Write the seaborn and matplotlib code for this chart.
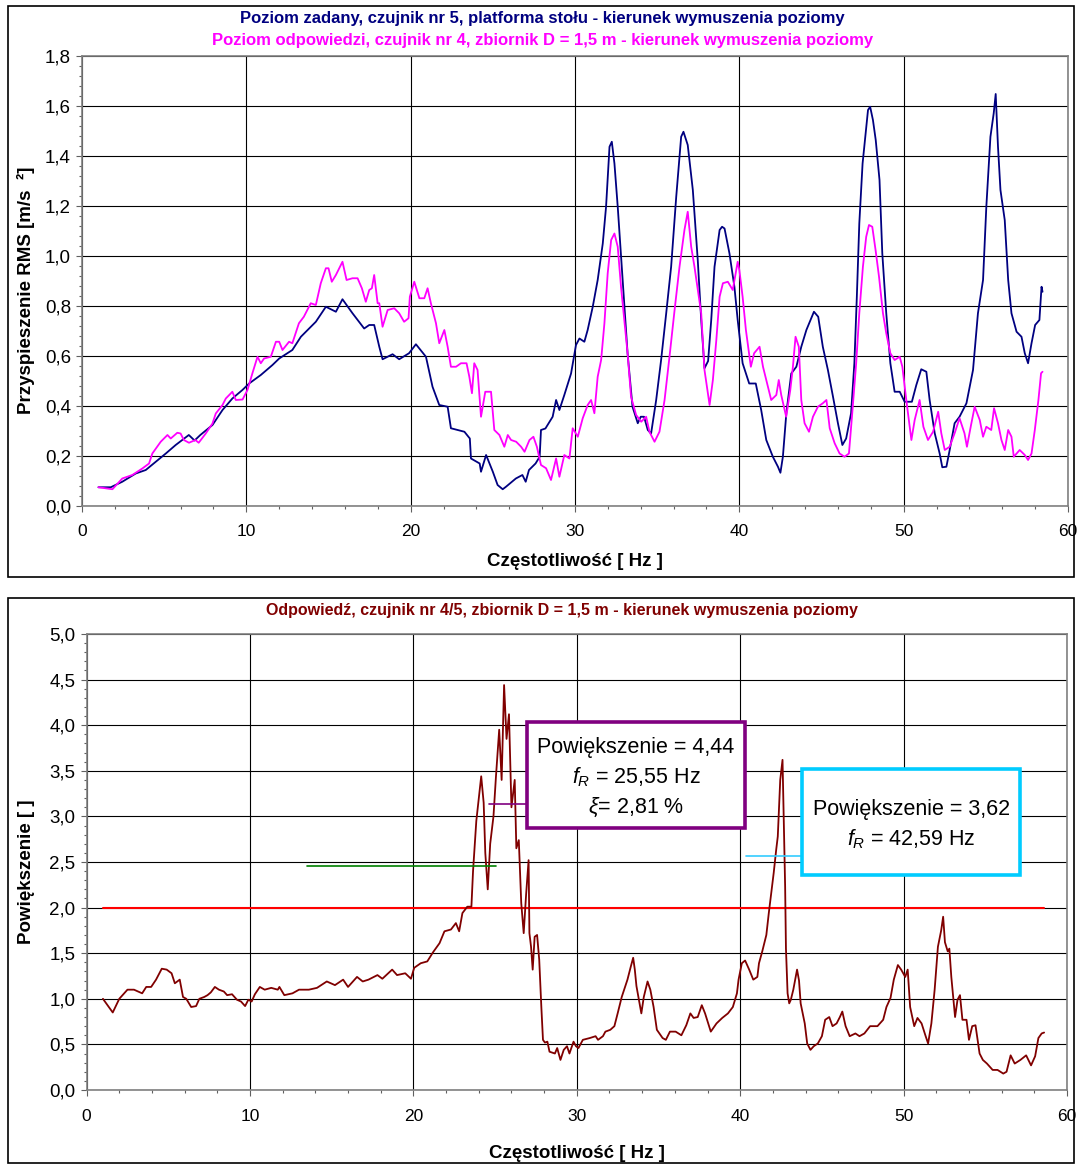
import matplotlib
matplotlib.use('Agg')
import matplotlib.pyplot as plt
import matplotlib.ticker as mticker
from matplotlib.patches import Rectangle
import seaborn as sns

sns.set_style('white')
plt.rcParams['font.family'] = ['Liberation Sans', 'DejaVu Sans']
plt.rcParams['mathtext.fontset'] = 'custom'
plt.rcParams['mathtext.rm'] = 'Liberation Sans'
plt.rcParams['mathtext.it'] = 'Liberation Sans:italic'
plt.rcParams['text.color'] = 'black'
plt.rcParams['axes.labelcolor'] = 'black'

# --- data ---
# top chart: RMS acceleration, input (sensor 5) and response (sensor 4)
zad_freq = [1.0, 1.75, 2.45, 3.27, 3.88, 4.49, 5.1, 5.7, 6.5, 6.85, 7.2, 7.94, 8.55, 9.15, 9.76, 10.17,
            10.88, 11.59, 12.0, 12.8, 13.32, 13.82, 14.23, 14.84, 15.45, 15.85, 16.46, 17.17, 17.48,
            17.78, 18.09, 18.29, 18.9, 19.3, 19.9, 20.32, 20.93, 21.33, 21.74, 22.25, 22.45, 23.27,
            23.6, 23.67, 24.2, 24.28, 24.59, 25.0, 25.29, 25.6, 25.8, 26.4, 26.8, 27.0, 27.2, 27.6,
            27.85, 27.93, 28.2, 28.64, 28.85, 29.05, 29.35, 29.76, 30.06, 30.27, 30.57, 30.77, 31.08,
            31.38, 31.69, 31.89, 32.1, 32.24, 32.4, 32.6, 32.9, 33.2, 33.5, 33.82, 34.0, 34.2, 34.43,
            34.63, 34.94, 35.24, 35.55, 35.85, 36.16, 36.46, 36.6, 36.86, 37.17, 37.47, 37.68, 37.88,
            38.1, 38.29, 38.49, 38.8, 38.95, 39.1, 39.4, 39.7, 39.9, 40.2, 40.6, 41.0, 41.33, 41.64,
            42.04, 42.35, 42.5, 42.65, 42.86, 43.16, 43.47, 43.77, 44.08, 44.54, 44.8, 45.08, 45.39,
            45.7, 46.0, 46.27, 46.5, 46.8, 47.0, 47.15, 47.3, 47.5, 47.83, 47.96, 48.13, 48.3, 48.53,
            48.7, 48.94, 49.19, 49.45, 49.76, 50.06, 50.5, 50.77, 51.07, 51.38, 51.58, 51.89, 52.19,
            52.35, 52.6, 52.8, 53.1, 53.4, 53.82, 54.22, 54.52, 54.83, 55.03, 55.28, 55.48, 55.6,
            55.74, 55.89, 56.15, 56.36, 56.56, 56.87, 57.17, 57.37, 57.57, 57.78, 58.0, 58.26, 58.39,
            58.45]
zad_rms = [0.075, 0.075, 0.097, 0.13, 0.144, 0.177, 0.21, 0.244, 0.284, 0.262, 0.284, 0.324, 0.384,
           0.43, 0.464, 0.49, 0.524, 0.564, 0.59, 0.624, 0.677, 0.71, 0.737, 0.797, 0.777, 0.827,
           0.771, 0.71, 0.724, 0.724, 0.637, 0.587, 0.607, 0.587, 0.611, 0.647, 0.597, 0.477, 0.404,
           0.397, 0.311, 0.297, 0.27, 0.19, 0.17, 0.137, 0.204, 0.137, 0.084, 0.067, 0.077, 0.11,
           0.124, 0.097, 0.144, 0.17, 0.197, 0.304, 0.31, 0.357, 0.424, 0.384, 0.444, 0.53, 0.644,
           0.67, 0.657, 0.704, 0.797, 0.904, 1.05, 1.197, 1.437, 1.457, 1.37, 1.197, 0.904, 0.61,
           0.397, 0.331, 0.357, 0.357, 0.304, 0.29, 0.424, 0.584, 0.771, 0.957, 1.237, 1.477, 1.497,
           1.444, 1.264, 0.984, 0.744, 0.551, 0.58, 0.744, 0.957, 1.104, 1.117, 1.11, 1.01, 0.877,
           0.744, 0.571, 0.49, 0.49, 0.384, 0.264, 0.197, 0.157, 0.133, 0.197, 0.371, 0.53, 0.557,
           0.637, 0.704, 0.777, 0.757, 0.637, 0.544, 0.437, 0.331, 0.244, 0.27, 0.371, 0.571, 0.837,
           1.13, 1.37, 1.584, 1.597, 1.544, 1.464, 1.304, 1.01, 0.771, 0.571, 0.457, 0.457, 0.417,
           0.417, 0.484, 0.547, 0.537, 0.424, 0.291, 0.21, 0.155, 0.157, 0.224, 0.331, 0.357, 0.411,
           0.544, 0.771, 0.904, 1.197, 1.477, 1.571, 1.648, 1.437, 1.264, 1.144, 0.904, 0.771, 0.697,
           0.677, 0.611, 0.571, 0.651, 0.724, 0.744, 0.877, 0.857]

odp_freq = [1.0, 1.85, 2.45, 3.06, 3.67, 4.08, 4.28, 4.79, 5.2, 5.4, 5.8, 6.0, 6.2, 6.51, 6.9, 7.1,
            7.53, 7.94, 8.14, 8.55, 8.75, 9.15, 9.36, 9.77, 10.07, 10.37, 10.68, 10.88, 11.08, 11.49,
            11.8, 12.0, 12.2, 12.6, 12.8, 13.2, 13.5, 13.92, 14.23, 14.53, 14.84, 15.0, 15.2, 15.45,
            15.85, 16.1, 16.46, 16.77, 17.03, 17.27, 17.48, 17.64, 17.78, 17.99, 18.09, 18.29, 18.6,
            19.0, 19.3, 19.6, 19.87, 19.95, 20.22, 20.53, 20.83, 21.03, 21.23, 21.54, 21.74, 22.05,
            22.25, 22.45, 22.76, 23.06, 23.4, 23.57, 23.73, 23.87, 24.07, 24.28, 24.54, 24.89, 25.09,
            25.4, 25.7, 25.91, 26.11, 26.42, 26.72, 26.93, 27.23, 27.47, 27.68, 27.93, 28.24, 28.54,
            28.85, 29.05, 29.35, 29.66, 29.86, 30.17, 30.47, 30.77, 30.98, 31.18, 31.38, 31.59, 31.79,
            31.99, 32.2, 32.4, 32.6, 32.8, 33.0, 33.2, 33.41, 33.72, 34.03, 34.33, 34.53, 34.84, 35.14,
            35.45, 35.75, 36.06, 36.36, 36.66, 36.86, 37.07, 37.27, 37.68, 37.88, 38.19, 38.39, 38.6,
            38.8, 39.0, 39.3, 39.6, 39.9, 40.0, 40.2, 40.4, 40.7, 40.9, 41.23, 41.44, 41.74, 41.94,
            42.25, 42.4, 42.55, 42.85, 43.1, 43.26, 43.42, 43.62, 43.77, 43.97, 44.24, 44.48, 44.78,
            45.08, 45.3, 45.5, 45.8, 46.1, 46.4, 46.67, 46.87, 47.11, 47.3, 47.52, 47.72, 47.89, 48.09,
            48.29, 48.5, 48.74, 48.94, 49.19, 49.45, 49.76, 49.92, 50.16, 50.47, 50.67, 50.97, 51.2,
            51.48, 51.79, 52.1, 52.29, 52.5, 52.8, 53.1, 53.4, 53.7, 53.85, 54.1, 54.32, 54.63, 54.83,
            55.03, 55.33, 55.5, 55.74, 55.95, 56.15, 56.36, 56.56, 56.7, 57.06, 57.37, 57.57, 57.78,
            57.98, 58.2, 58.36, 58.45]
odp_rms = [0.075, 0.067, 0.11, 0.124, 0.15, 0.17, 0.21, 0.257, 0.284, 0.27, 0.293, 0.29, 0.264, 0.253,
           0.264, 0.253, 0.29, 0.33, 0.37, 0.404, 0.43, 0.457, 0.424, 0.426, 0.464, 0.531, 0.597,
           0.571, 0.59, 0.597, 0.657, 0.657, 0.624, 0.657, 0.651, 0.731, 0.757, 0.811, 0.804, 0.891,
           0.951, 0.951, 0.897, 0.924, 0.977, 0.904, 0.911, 0.911, 0.871, 0.817, 0.864, 0.871, 0.924,
           0.811, 0.811, 0.717, 0.784, 0.791, 0.771, 0.737, 0.751, 0.837, 0.897, 0.831, 0.831, 0.871,
           0.811, 0.731, 0.651, 0.704, 0.637, 0.557, 0.557, 0.571, 0.571, 0.517, 0.451, 0.571, 0.544,
           0.357, 0.457, 0.457, 0.304, 0.284, 0.237, 0.284, 0.264, 0.257, 0.237, 0.217, 0.264, 0.277,
           0.237, 0.164, 0.151, 0.104, 0.19, 0.117, 0.204, 0.19, 0.311, 0.277, 0.351, 0.404, 0.424,
           0.371, 0.517, 0.584, 0.731, 0.931, 1.064, 1.09, 1.037, 0.877, 0.744, 0.611, 0.437, 0.364,
           0.337, 0.357, 0.297, 0.257, 0.297, 0.424, 0.597, 0.784, 0.957, 1.104, 1.177, 1.037, 0.957,
           0.771, 0.544, 0.404, 0.504, 0.664, 0.837, 0.891, 0.897, 0.864, 0.977, 0.944, 0.837, 0.704,
           0.557, 0.611, 0.637, 0.557, 0.477, 0.424, 0.444, 0.504, 0.444, 0.357, 0.464, 0.557, 0.677,
           0.637, 0.424, 0.331, 0.297, 0.357, 0.397, 0.411, 0.424, 0.311, 0.251, 0.21, 0.197, 0.21,
           0.371, 0.571, 0.771, 0.957, 1.077, 1.124, 1.117, 1.024, 0.917, 0.771, 0.691, 0.611, 0.584,
           0.597, 0.557, 0.424, 0.264, 0.344, 0.424, 0.317, 0.264, 0.297, 0.377, 0.291, 0.224, 0.237,
           0.291, 0.351, 0.291, 0.237, 0.324, 0.397, 0.344, 0.277, 0.317, 0.304, 0.391, 0.331, 0.264,
           0.224, 0.304, 0.277, 0.197, 0.224, 0.204, 0.184, 0.21, 0.304, 0.424, 0.531, 0.537]

# bottom chart: magnification (response / input)
pow_freq = [1.0, 1.6, 2.0, 2.5, 2.9, 3.4, 3.65, 3.95, 4.25, 4.6, 4.9, 5.2, 5.4, 5.7, 5.9, 6.1, 6.4,
            6.7, 6.9, 7.2, 7.4, 7.6, 7.85, 8.1, 8.4, 8.6, 8.9, 9.2, 9.45, 9.7, 9.9, 10.1, 10.3, 10.6,
            10.9, 11.3, 11.7, 11.8, 12.1, 12.6, 13.0, 13.6, 14.1, 14.7, 15.2, 15.7, 16.0, 16.55, 16.9,
            17.25, 17.8, 18.1, 18.7, 19.0, 19.5, 19.85, 20.05, 20.45, 20.85, 21.2, 21.6, 21.9, 22.3,
            22.6, 22.8, 23.0, 23.3, 23.55, 23.65, 23.85, 24.0, 24.15, 24.3, 24.4, 24.55, 24.7, 24.9,
            25.05, 25.25, 25.4, 25.55, 25.7, 25.85, 26.0, 26.2, 26.3, 26.45, 26.6, 26.75, 26.9, 27.05,
            27.1, 27.2, 27.3, 27.42, 27.57, 27.7, 27.83, 27.93, 28.05, 28.2, 28.33, 28.66, 28.8, 29.0,
            29.2, 29.4, 29.55, 29.8, 29.95, 30.1, 30.37, 30.8, 31.15, 31.3, 31.6, 31.75, 32.05, 32.3,
            32.5, 32.75, 33.1, 33.3, 33.45, 33.55, 33.65, 33.8, 33.95, 34.1, 34.33, 34.5, 34.7, 34.9,
            35.25, 35.45, 35.7, 36.05, 36.4, 36.7, 36.95, 37.15, 37.4, 37.65, 37.85, 38.2, 38.55, 38.9,
            39.25, 39.55, 39.8, 39.9, 40.1, 40.3, 40.55, 40.8, 41.05, 41.15, 41.35, 41.6, 41.75, 41.9,
            42.05, 42.2, 42.3, 42.37, 42.45, 42.59, 42.66, 42.75, 42.8, 42.9, 43.0, 43.1, 43.25, 43.48,
            43.6, 43.7, 43.95, 44.1, 44.3, 44.5, 44.75, 45.0, 45.2, 45.45, 45.65, 45.9, 46.1, 46.25,
            46.45, 46.7, 47.05, 47.3, 47.6, 47.95, 48.4, 48.75, 48.95, 49.2, 49.4, 49.65, 49.85, 50.1,
            50.25, 50.4, 50.65, 50.85, 51.1, 51.35, 51.5, 51.7, 51.9, 52.1, 52.3, 52.42, 52.53, 52.7,
            52.8, 52.92, 53.15, 53.3, 53.45, 53.6, 53.85, 54.0, 54.2, 54.4, 54.65, 54.85, 55.1, 55.45,
            55.75, 56.1, 56.3, 56.55, 56.8, 57.15, 57.5, 57.8, 58.05, 58.25, 58.45, 58.6]
pow_val = [1.0, 0.85, 1.0, 1.1, 1.1, 1.06, 1.13, 1.13, 1.21, 1.33, 1.32, 1.28, 1.17, 1.21, 1.02, 1.0,
           0.91, 0.92, 1.0, 1.02, 1.04, 1.07, 1.13, 1.1, 1.08, 1.04, 1.05, 0.99, 0.97, 0.92, 0.99,
           0.97, 1.05, 1.13, 1.1, 1.12, 1.1, 1.13, 1.04, 1.06, 1.1, 1.1, 1.12, 1.19, 1.15, 1.21, 1.13,
           1.24, 1.19, 1.21, 1.26, 1.22, 1.32, 1.26, 1.28, 1.22, 1.34, 1.39, 1.41, 1.51, 1.61, 1.74,
           1.76, 1.83, 1.74, 1.94, 2.01, 2.01, 2.4, 2.95, 3.2, 3.44, 3.15, 2.6, 2.2, 2.7, 3.0, 3.43,
           3.95, 3.4, 4.44, 3.85, 4.12, 3.1, 3.4, 2.65, 2.74, 2.05, 1.72, 2.15, 2.52, 1.72, 1.57, 1.32,
           1.68, 1.7, 1.43, 0.91, 0.55, 0.52, 0.53, 0.42, 0.4, 0.46, 0.33, 0.44, 0.48, 0.4, 0.53, 0.48,
           0.46, 0.55, 0.57, 0.59, 0.55, 0.59, 0.64, 0.66, 0.7, 0.84, 1.02, 1.21, 1.35, 1.45, 1.32,
           1.14, 0.99, 0.84, 1.02, 1.19, 1.1, 0.91, 0.66, 0.57, 0.55, 0.64, 0.64, 0.6, 0.71, 0.84, 0.79,
           0.8, 0.93, 0.84, 0.64, 0.73, 0.79, 0.84, 0.91, 1.06, 1.21, 1.39, 1.42, 1.32, 1.21, 1.24,
           1.39, 1.52, 1.7, 1.94, 2.16, 2.38, 2.63, 2.78, 3.07, 3.4, 3.62, 3.03, 2.23, 1.55, 1.06,
           0.95, 0.99, 1.1, 1.32, 1.2, 0.95, 0.73, 0.51, 0.44, 0.48, 0.51, 0.59, 0.77, 0.8, 0.7, 0.73,
           0.8, 0.86, 0.7, 0.59, 0.62, 0.59, 0.62, 0.7, 0.7, 0.77, 0.91, 1.01, 1.21, 1.37, 1.32, 1.24,
           1.32, 0.91, 0.7, 0.79, 0.73, 0.59, 0.51, 0.73, 1.1, 1.57, 1.75, 1.9, 1.62, 1.52, 1.55, 1.24,
           0.8, 0.99, 1.04, 0.77, 0.77, 0.55, 0.7, 0.71, 0.4, 0.33, 0.29, 0.22, 0.22, 0.18, 0.2, 0.38,
           0.29, 0.33, 0.38, 0.27, 0.37, 0.57, 0.62, 0.63]

prog_level = 2.0
half_power_1 = 3.14
half_power_2 = 2.57
green_level = 2.46

W, H = 1078, 1165
fig = plt.figure(figsize=(W / 100, H / 100), dpi=100)

# outer chart frames (Excel chart areas)
for y_top, y_bot in [(6, 577), (598, 1163)]:
    fig.patches.append(Rectangle((8 / W, 1 - y_bot / H), (1074 - 8) / W, (y_bot - y_top) / H,
                                 transform=fig.transFigure, fill=False, ec='black', lw=1.2))

ax1 = fig.add_axes([82 / W, 1 - 506 / H, (1068 - 82) / W, (506 - 56) / H])
ax2 = fig.add_axes([86.6 / W, 1 - 1090 / H, (1067 - 86.6) / W, (1090 - 634) / H])

comma = mticker.FuncFormatter(lambda v, p: f'{v:.1f}'.replace('.', ','))


def style_axes(ax, ymax, ystep, yminor, xpad, xlabelpad):
    ax.set_xlim(0, 60)
    ax.set_ylim(0, ymax)
    ax.xaxis.set_major_locator(mticker.MultipleLocator(10))
    ax.xaxis.set_minor_locator(mticker.MultipleLocator(2))
    ax.yaxis.set_major_locator(mticker.MultipleLocator(ystep))
    ax.yaxis.set_minor_locator(mticker.MultipleLocator(yminor))
    ax.yaxis.set_major_formatter(comma)
    ax.grid(True, which='major', color='black', lw=0.8)
    ax.set_axisbelow(True)
    for s in ax.spines.values():
        s.set_color('#808080')
        s.set_linewidth(1.2)
    ax.tick_params(which='both', bottom=True, left=True, direction='out', color='#606060',
                   width=0.8, labelcolor='black')
    ax.tick_params(which='major', length=4)
    ax.tick_params(which='minor', length=2.5)
    ax.tick_params(axis='x', which='major', pad=xpad, labelsize=12.5)
    ax.tick_params(axis='y', which='major', pad=4, labelsize=13.5)
    ax.set_xlabel('Częstotliwość [ Hz ]', fontsize=13.5, fontweight='bold', labelpad=xlabelpad)


sns.lineplot(x=zad_freq, y=zad_rms, ax=ax1, color='#000080', lw=1.3, sort=False, estimator=None)
sns.lineplot(x=odp_freq, y=odp_rms, ax=ax1, color='#FF00FF', lw=1.3, sort=False, estimator=None)
style_axes(ax1, 1.8, 0.2, 0.04, 9, 10)
ax1.set_ylabel('Przyspieszenie RMS [m/s  ²]', fontsize=13.5, fontweight='bold')
ax1.yaxis.set_label_coords(-0.0477, 0.48)

fig.text(0.503, 1 - 18 / H, 'Poziom zadany, czujnik nr 5, platforma stołu - kierunek wymuszenia poziomy',
         ha='center', va='center', color='#000080', fontsize=12, fontweight='bold')
fig.text(0.503, 1 - 40 / H, 'Poziom odpowiedzi, czujnik nr 4, zbiornik D = 1,5 m - kierunek wymuszenia poziomy',
         ha='center', va='center', color='#FF00FF', fontsize=12, fontweight='bold')

# bottom chart
ax2.plot([pow_freq[0], pow_freq[-1]], [prog_level, prog_level], color='#FF0000', lw=1.5)
sns.lineplot(x=pow_freq, y=pow_val, ax=ax2, color='#800000', lw=1.3, sort=False, estimator=None)
ax2.plot([13.5, 25.05], [green_level, green_level], color='#008000', lw=1.2)
ax2.plot([24.6, 27.1], [half_power_1, half_power_1], color='#800080', lw=1.2)
ax2.plot([40.35, 43.8], [half_power_2, half_power_2], color='#33CCFF', lw=1.2)
style_axes(ax2, 5.0, 0.5, 0.1, 10, 15)
ax2.set_ylabel('Powiększenie [ ]', fontsize=13.5, fontweight='bold')
ax2.yaxis.set_label_coords(-0.0526, 0.478)

fig.text(0.521, 1 - 611 / H, 'Odpowiedź, czujnik nr 4/5, zbiornik D = 1,5 m - kierunek wymuszenia poziomy',
         ha='center', va='center', color='#800000', fontsize=11.5, fontweight='bold')

# annotation boxes
boxes = [
    (33.62, 3.45, '#800080',
     'Powiększenie = 4,44\n$\\mathit{f}_{\\mathit{R}}$ = 25,55 Hz\n$\\mathit{\\xi}$= 2,81 %'),
    (50.48, 2.94, '#00CCFF',
     'Powiększenie = 3,62\n$\\mathit{f}_{\\mathit{R}}$ = 42,59 Hz'),
]
bw, bh = 218 / 16.34, 106 / 91.2
for cx, cy, ec, txt in boxes:
    ax2.add_patch(Rectangle((cx - bw / 2, cy - bh / 2), bw, bh, facecolor='white', edgecolor=ec,
                            lw=2.6, zorder=5))
    ax2.text(cx, cy - 0.03, txt, ha='center', va='center', fontsize=15.5, linespacing=1.4, zorder=6)

fig.savefig('out.png', dpi=100, facecolor='white')
